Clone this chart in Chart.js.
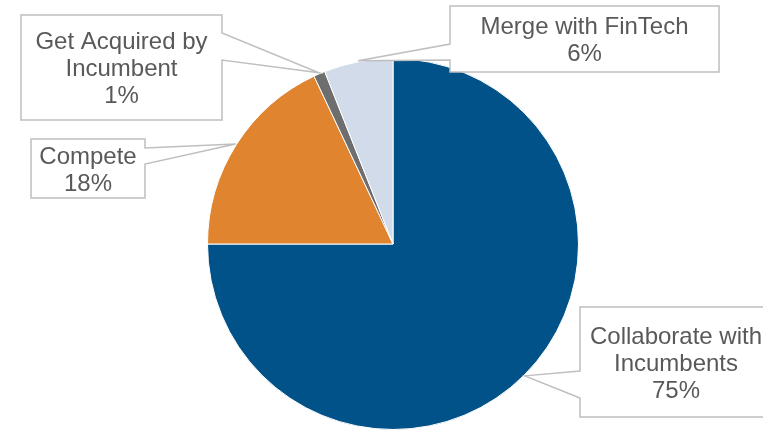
<!DOCTYPE html>
<html>
<head>
<meta charset="utf-8">
<script src="https://cdn.jsdelivr.net/npm/chart.js@4"></script>
<style>
    html, body { margin: 0; padding: 0; background: #ffffff; }
    #wrap { width: 763px; height: 430px; position: relative; }
</style>
</head>
<body>
<div id="wrap"><canvas id="grafico-estrategia"></canvas></div>
<script>
// slices, clockwise from 12 o'clock
const categorias = [
    ["Collaborate with", "Incumbents"],
    ["Compete"],
    ["Get Acquired by", "Incumbent"],
    ["Merge with FinTech"],
];
const percentuais = [75, 18, 1, 6];
const cores = ["#005288", "#e0842f", "#6e6e6e", "#d2dbea"];

// callout boxes: rect + side of the box the pointer leaves from, and its base (y0..y1)
const caixas = [
    { x: 580, y: 307, w: 192, h: 110, lado: "left", b0: 371, b1: 398 },
    { x: 31, y: 139, w: 114, h: 59, lado: "right", b0: 148, b1: 164 },
    { x: 21, y: 15, w: 201, h: 105, lado: "right", b0: 33, b1: 60 },
    { x: 450, y: 6, w: 269, h: 66, lado: "left", b0: 44, b1: 60 },
];

const pluginCallouts = {
    id: "callouts",
    afterDatasetsDraw(chart) {
        const ctx = chart.ctx;
        const meta = chart.getDatasetMeta(0);
        const valores = chart.data.datasets[0].data;
        const total = valores.reduce((a, b) => a + b, 0);

        meta.data.forEach((arco, i) => {
            const c = caixas[i];
            if (!c) return;
            const { x, y, startAngle, endAngle, outerRadius } = arco.getProps(["x", "y", "startAngle", "endAngle", "outerRadius"], true);
            const meio = (startAngle + endAngle) / 2;
            const ax = x + Math.cos(meio) * (outerRadius + 1);
            const ay = y + Math.sin(meio) * (outerRadius + 1);

            ctx.save();
            ctx.beginPath();
            if (c.lado === "right") {
                ctx.moveTo(c.x, c.y);
                ctx.lineTo(c.x + c.w, c.y);
                ctx.lineTo(c.x + c.w, c.b0);
                ctx.lineTo(ax, ay);
                ctx.lineTo(c.x + c.w, c.b1);
                ctx.lineTo(c.x + c.w, c.y + c.h);
                ctx.lineTo(c.x, c.y + c.h);
            } else {
                ctx.moveTo(c.x, c.y);
                ctx.lineTo(c.x + c.w, c.y);
                ctx.lineTo(c.x + c.w, c.y + c.h);
                ctx.lineTo(c.x, c.y + c.h);
                ctx.lineTo(c.x, c.b1);
                ctx.lineTo(ax, ay);
                ctx.lineTo(c.x, c.b0);
            }
            ctx.closePath();
            ctx.fillStyle = "#ffffff";
            ctx.fill();
            ctx.strokeStyle = "#bfbfbf";
            ctx.lineWidth = 1.5;
            ctx.lineJoin = "miter";
            ctx.stroke();

            const linhas = [...chart.data.labels[i], Math.round(valores[i] / total * 100) + "%"];
            const alturaLinha = 27;
            const cx = c.x + c.w / 2;
            const cy = c.y + c.h / 2;
            ctx.fillStyle = "#595959";
            ctx.font = "24px 'Liberation Sans', Arial, sans-serif";
            ctx.textAlign = "center";
            ctx.textBaseline = "alphabetic";
            linhas.forEach((txt, k) => {
                const base = cy + (k - (linhas.length - 1) / 2) * alturaLinha + 8.6;
                ctx.fillText(txt, cx, base);
            });
            ctx.restore();
        });
    },
};

const ctxPizza = document.getElementById("grafico-estrategia").getContext("2d");

new Chart(ctxPizza, {
    type: "pie",
    data: {
        labels: categorias,
        datasets: [
            {
                data: percentuais,
                backgroundColor: cores,
                borderColor: "#ffffff",
                borderWidth: 1,
            },
        ],
    },
    options: {
        responsive: true,
        maintainAspectRatio: false,
        animation: false,
        events: [],
        layout: { padding: { top: 58, left: 23, right: 0, bottom: 0 } },
        plugins: {
            legend: { display: false },
            tooltip: { enabled: false },
        },
    },
    plugins: [pluginCallouts],
});
</script>
</body>
</html>
